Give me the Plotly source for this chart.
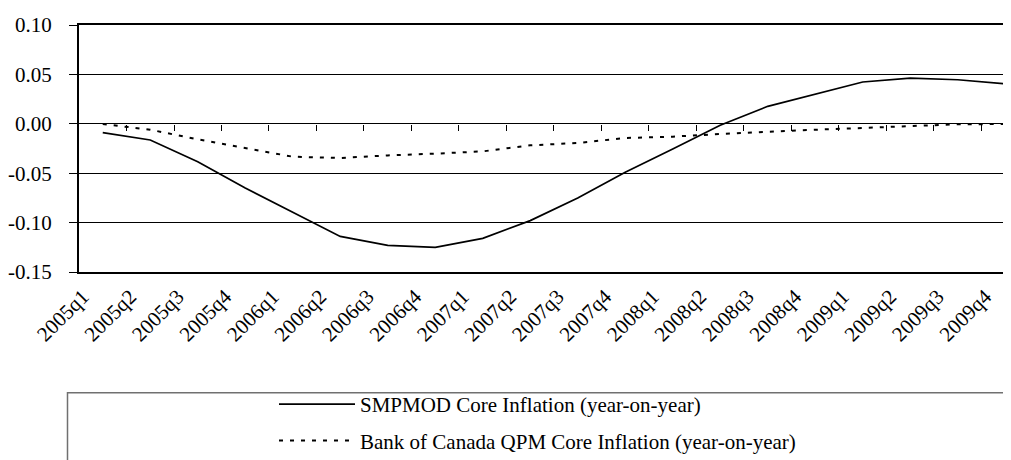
import plotly.graph_objects as go

categories = ["2005q1", "2005q2", "2005q3", "2005q4", "2006q1", "2006q2", "2006q3", "2006q4",
              "2007q1", "2007q2", "2007q3", "2007q4", "2008q1", "2008q2", "2008q3", "2008q4",
              "2009q1", "2009q2", "2009q3", "2009q4"]

smpmod = [-0.009, -0.0164, -0.0384, -0.065, -0.0896, -0.114, -0.123, -0.125,
          -0.116, -0.098, -0.075, -0.049, -0.0254, -0.0015, 0.0177, 0.0302,
          0.0423, 0.0463, 0.0446, 0.0405]

qpm = [-0.0002, -0.006, -0.0157, -0.0245, -0.0333, -0.0346, -0.032, -0.0302,
       -0.0279, -0.0218, -0.0194, -0.0144, -0.013, -0.0103, -0.008, -0.006,
       -0.0042, -0.0022, -0.0005, -0.0002]

y_ticks = [0.10, 0.05, 0.00, -0.05, -0.10, -0.15]
y_ticklabels = ["0.10", "0.05", "0.00", "-0.05", "-0.10", "-0.15"]

names = ["SMPMOD Core Inflation (year-on-year)",
         "Bank of Canada QPM Core Inflation (year-on-year)"]

FONT = "Liberation Serif"
FS = 21
idx = list(range(len(categories)))
boundaries = [i + 0.5 for i in idx]
y_min, y_max = min(y_ticks), max(y_ticks)

fig = go.Figure()
fig.add_trace(go.Scatter(x=idx, y=smpmod, mode="lines", name=names[0],
                         line=dict(color="black", width=1.7), legendgroup="a"))
fig.add_trace(go.Scatter(x=idx, y=qpm, mode="lines", name=names[1], xaxis="x2",
                         line=dict(color="black", width=2, dash="4px,7px"), legendgroup="b"))

fig.update_layout(
    width=1011, height=460,
    margin=dict(l=71, r=0, t=17, b=196, autoexpand=False),
    plot_bgcolor="white", paper_bgcolor="white",
    font=dict(family=FONT, size=FS, color="black"),
    showlegend=True,
    legend=dict(xref="container", yref="container", x=266 / 1011, y=1 - 376 / 460,
                xanchor="left", yanchor="top", bgcolor="rgba(0,0,0,0)",
                borderwidth=0, itemwidth=76, tracegroupgap=6,
                font=dict(family=FONT, size=FS, color="black")),
    xaxis=dict(range=[-0.5, len(categories) - 0.71], tickmode="array", tickvals=idx,
               ticktext=categories, tickangle=-45, ticks="", showgrid=False,
               zeroline=False, showline=True, mirror=True, linecolor="black", linewidth=2,
               ticklabelshift=-20, ticklabelstandoff=2,
               tickfont=dict(family=FONT, size=FS, color="black")),
    xaxis2=dict(overlaying="x", anchor="free", matches="x",
                position=(0 - y_min) / (y_max - y_min),
                tickmode="array", tickvals=boundaries, showticklabels=False,
                ticks="outside", ticklen=6, tickwidth=1, tickcolor="black",
                showgrid=False, zeroline=False, showline=False),
    yaxis=dict(range=[y_min, y_max], tickmode="array", tickvals=y_ticks,
               ticktext=y_ticklabels, showgrid=True, gridcolor="black", gridwidth=1,
               zeroline=False, showline=True, linecolor="black", linewidth=2,
               ticks="outside", ticklen=8, tickwidth=1, tickcolor="black",
               ticklabelstandoff=13,
               tickfont=dict(family=FONT, size=FS, color="black")),
    shapes=[dict(type="rect", xref="paper", yref="paper",
                 x0=(59.5 - 71) / 940, x1=1.2,
                 y0=-1.5, y1=(264.3 - 385) / 247,
                 line=dict(color="#707070", width=1.5), fillcolor="rgba(0,0,0,0)")],
)

fig.write_html("out.html")
